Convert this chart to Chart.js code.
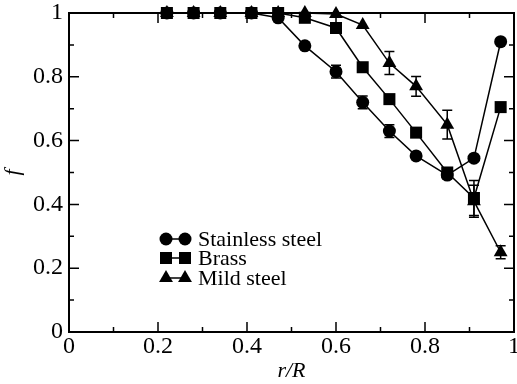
<!DOCTYPE html>
<html>
<head>
<meta charset="utf-8">
<script src="https://cdn.jsdelivr.net/npm/chart.js@4.4.1/dist/chart.umd.min.js"></script>
<style>
html,body{margin:0;padding:0;background:#fff;}
#wrap{width:517px;height:384px;}
</style>
</head>
<body>
<div id="wrap"><canvas id="c" width="517" height="384"></canvas></div>
<script>
// ---- data ----
const rR = [0.22, 0.28, 0.34, 0.41, 0.47, 0.53, 0.60, 0.66, 0.72, 0.78, 0.85, 0.91, 0.97];
const stainless = [1.0, 1.0, 1.0, 1.0, 0.985, 0.897, 0.816, 0.72, 0.63, 0.552, 0.492, 0.545, 0.91];
const stainlessErr = [0, 0, 0, 0, 0, 0, 0.02, 0.02, 0.02, 0, 0.012, 0, 0];
const brass = [1.0, 1.0, 1.0, 1.0, 1.0, 0.985, 0.953, 0.83, 0.73, 0.625, 0.50, 0.42, 0.705];
const brassErr = [0, 0, 0, 0, 0, 0, 0, 0, 0, 0, 0, 0.055, 0];
const mild = [1.0, 1.0, 1.0, 1.0, 1.0, 1.0, 0.997, 0.962, 0.843, 0.77, 0.65, 0.41, 0.25];
const mildErr = [0, 0, 0, 0, 0, 0, 0, 0, 0.036, 0.031, 0.045, 0.05, 0.02];
const seriesNames = ['Stainless steel', 'Brass', 'Mild steel'];
const xTicks = [0, 0.2, 0.4, 0.6, 0.8, 1];
const yTicks = [0, 0.2, 0.4, 0.6, 0.8, 1];

const FONT = "'Liberation Serif', 'Times New Roman', serif";

function pts(ys) { return rR.map((x, i) => ({x: x, y: ys[i]})); }

const styles = [
  {pointStyle: 'circle', radius: 6.5},
  {pointStyle: 'rect', radius: 8.5},
  {pointStyle: 'triangle', radius: 8}
];
const errs = [stainlessErr, brassErr, mildErr];

const datasets = [stainless, brass, mild].map((ys, k) => ({
  label: seriesNames[k],
  data: pts(ys),
  showLine: true,
  borderColor: '#000',
  backgroundColor: '#000',
  borderWidth: 1.5,
  pointStyle: styles[k].pointStyle,
  pointRadius: styles[k].radius,
  pointHoverRadius: styles[k].radius,
  pointBorderWidth: 0,
  pointBackgroundColor: '#000',
  clip: false,
  tension: 0
}));

const framePlugin = {
  id: 'frame',
  afterDatasetsDraw(chart) {
    const ctx = chart.ctx;
    const a = chart.chartArea;
    const xs = chart.scales.x, ys = chart.scales.y;
    ctx.save();
    ctx.strokeStyle = '#000';
    // error bars
    ctx.lineWidth = 1.5;
    chart.data.datasets.forEach((ds, k) => {
      const e = errs[k];
      ds.data.forEach((p, i) => {
        if (!e[i]) return;
        const px = xs.getPixelForValue(p.x);
        const y1 = ys.getPixelForValue(p.y + e[i]);
        const y2 = ys.getPixelForValue(p.y - e[i]);
        ctx.beginPath();
        ctx.moveTo(px, y1); ctx.lineTo(px, y2);
        ctx.moveTo(px - 5, y1); ctx.lineTo(px + 5, y1);
        ctx.moveTo(px - 5, y2); ctx.lineTo(px + 5, y2);
        ctx.stroke();
      });
    });
    // frame
    ctx.lineWidth = 2;
    ctx.strokeRect(a.left, a.top, a.right - a.left, a.bottom - a.top);
    // inward ticks
    ctx.lineWidth = 1.5;
    ctx.beginPath();
    for (let v = 0; v <= 10; v++) {
      const val = v / 10;
      const len = (v % 2 === 0) ? 10 : 5;
      const px = xs.getPixelForValue(val);
      ctx.moveTo(px, a.bottom); ctx.lineTo(px, a.bottom - len);
      ctx.moveTo(px, a.top); ctx.lineTo(px, a.top + len);
      const py = ys.getPixelForValue(val);
      ctx.moveTo(a.left, py); ctx.lineTo(a.left + len, py);
      ctx.moveTo(a.right, py); ctx.lineTo(a.right - len, py);
    }
    ctx.stroke();
    // legend
    const lx1 = 166, lx2 = 185, tx = 198;
    const rows = [239, 258, 278];
    ctx.font = '22px ' + FONT;
    ctx.fillStyle = '#000';
    ctx.textBaseline = 'middle';
    ctx.textAlign = 'left';
    chart.data.datasets.forEach((ds, k) => {
      const y = rows[k];
      ctx.lineWidth = 1.5;
      ctx.beginPath(); ctx.moveTo(lx1, y); ctx.lineTo(lx2, y); ctx.stroke();
      const opt = {pointStyle: styles[k].pointStyle, radius: styles[k].radius, borderWidth: 0, rotation: 0};
      ctx.fillStyle = '#000';
      Chart.helpers.drawPoint(ctx, opt, lx1, y);
      Chart.helpers.drawPoint(ctx, opt, lx2, y);
      ctx.fillStyle = '#000';
      ctx.fillText(ds.label, tx, y + 1);
    });
    ctx.restore();
  }
};

new Chart(document.getElementById('c'), {
  type: 'scatter',
  data: {datasets: datasets},
  options: {
    responsive: false,
    animation: false,
    devicePixelRatio: 1,
    layout: {autoPadding: false, padding: {top: 13, right: 3, left: 0, bottom: 0}},
    plugins: {legend: {display: false}, tooltip: {enabled: false}},
    scales: {
      x: {
        type: 'linear', min: 0, max: 1,
        afterBuildTicks(s) { s.ticks = xTicks.map(v => ({value: v})); },
        afterFit(s) { s.height = 52; s.paddingLeft = 0; s.paddingRight = 0; },
        grid: {display: false, drawTicks: false},
        border: {display: false},
        ticks: {color: '#000', font: {family: FONT, size: 24}, padding: 0, maxRotation: 0,
                callback: v => String(v)},
        title: {display: true, text: 'r/R', color: '#000', padding: {top: 0, bottom: 0},
                font: {family: FONT, size: 22, style: 'italic'}}
      },
      y: {
        type: 'linear', min: 0, max: 1,
        afterBuildTicks(s) { s.ticks = yTicks.map(v => ({value: v})); },
        afterFit(s) { s.width = 69; s.paddingTop = 0; s.paddingBottom = 0; },
        grid: {display: false, drawTicks: false},
        border: {display: false},
        ticks: {color: '#000', font: {family: FONT, size: 24}, padding: 6,
                callback: v => String(v)},
        title: {display: true, text: 'f', color: '#000', padding: {top: 0, bottom: 0},
                font: {family: FONT, size: 22, style: 'italic'}}
      }
    }
  },
  plugins: [framePlugin]
});
</script>
</body>
</html>
